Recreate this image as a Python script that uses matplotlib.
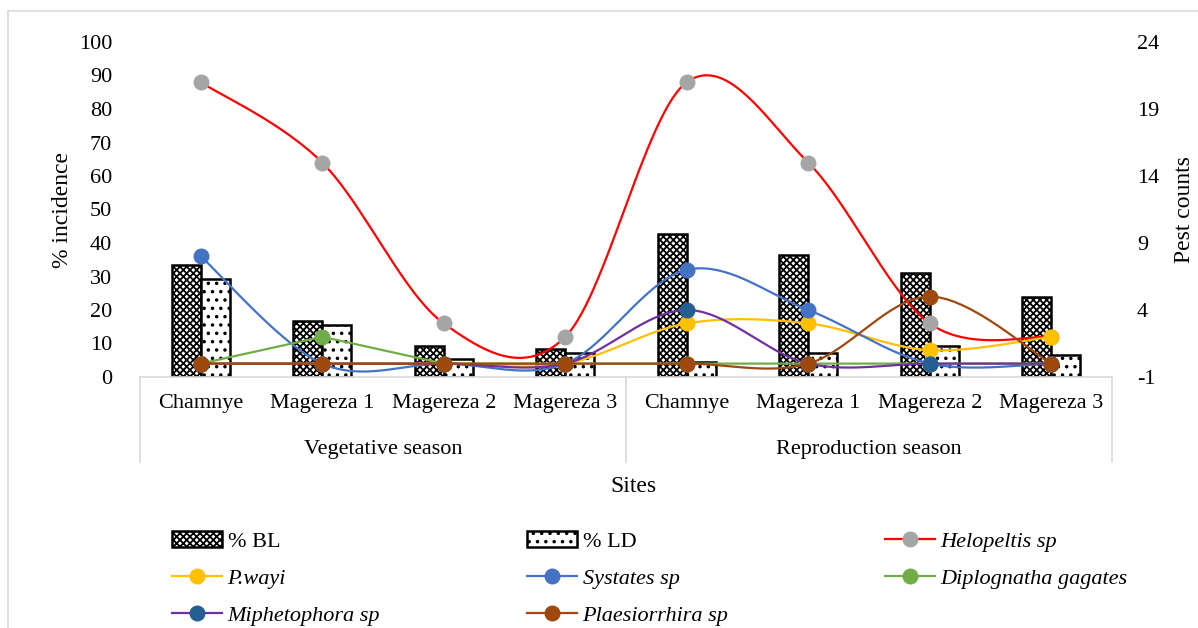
import numpy as np
import matplotlib
matplotlib.use("Agg")
import matplotlib.pyplot as plt
from matplotlib.lines import Line2D
from matplotlib.patches import Rectangle

plt.rcParams['font.family'] = ['Liberation Serif', 'DejaVu Serif']
plt.rcParams['font.size'] = 16
plt.rcParams['hatch.linewidth'] = 1.3
plt.rcParams['axes.unicode_minus'] = False

sites = ["Chamnye", "Magereza 1", "Magereza 2", "Magereza 3",
         "Chamnye", "Magereza 1", "Magereza 2", "Magereza 3"]
seasons = ["Vegetative season", "Reproduction season"]

# % incidence (left axis)
bl = [33.4, 16.8, 9.3, 8.4, 42.6, 36.3, 31.0, 23.8]
ld = [29.3, 15.5, 5.3, 7.1, 4.4, 7.3, 9.3, 6.6]

# pest counts (right axis)
helopeltis = [21, 15, 3, 2, 21, 15, 3, 2]
p_wayi = [0, 0, 0, 0, 3, 3, 1, 2]
systates = [8, 0, 0, 0, 7, 4, 0, 0]
diplognatha = [0, 2, 0, 0, 0, 0, 0, 0]
miphetophora = [0, 0, 0, 0, 4, 0, 0, 0]
plaesiorrhira = [0, 0, 0, 0, 0, 0, 5, 0]


def smooth(x, y, n=40):
    # excel-like smoothed line (catmull-rom as cubic bezier)
    pts = np.column_stack([x, y]).astype(float)
    out = []
    t = np.linspace(0, 1, n + 1)[:, None]
    for i in range(len(pts) - 1):
        p0 = pts[i - 1] if i > 0 else pts[i]
        p1 = pts[i]
        p2 = pts[i + 1]
        p3 = pts[i + 2] if i + 2 < len(pts) else pts[i + 1]
        c1 = p1 + (p2 - p0) / 6
        c2 = p2 - (p3 - p1) / 6
        seg = ((1 - t) ** 3 * p1 + 3 * (1 - t) ** 2 * t * c1
               + 3 * (1 - t) * t ** 2 * c2 + t ** 3 * p2)
        out.append(seg if i == 0 else seg[1:])
    out = np.vstack(out)
    return out[:, 0], out[:, 1], list(range(0, len(out), n))


fig = plt.figure(figsize=(11.98, 6.28), dpi=100)
ax = fig.add_axes([140 / 1198, 1 - 377 / 628, 972 / 1198, 335 / 628])
x = np.arange(len(sites))
w = 0.24

b1 = ax.bar(x - w / 2, bl, width=w, facecolor='white', edgecolor='black',
            hatch='xxxxx', linewidth=1.8, label='% BL')
b2 = ax.bar(x + w / 2, ld, width=w, facecolor='white', edgecolor='black',
            hatch='..', linewidth=1.8, label='% LD')

ax.set_xlim(-0.5, 7.5)
ax.set_ylim(0, 100)
ax.set_yticks(range(0, 101, 10))
ax.set_xticks(x)
ax.set_xticklabels(sites)
ax.tick_params(axis='x', length=0, pad=12)
ax.tick_params(axis='y', length=0, pad=20)
for s in ['top', 'left', 'right']:
    ax.spines[s].set_visible(False)
ax.spines['bottom'].set_color('#D9D9D9')
ax.spines['bottom'].set_linewidth(1.2)

ax2 = ax.twinx()
ax2.set_ylim(-1, 24)
ax2.set_yticks([-1, 4, 9, 14, 19, 24])
ax2.tick_params(axis='y', length=0, pad=18)
for s in ax2.spines.values():
    s.set_visible(False)

series = [
    ("Helopeltis sp", helopeltis, '#FF0000', '#A5A5A5', True),
    ("P.wayi", p_wayi, '#FFC000', '#FFC000', True),
    ("Systates sp", systates, '#4472C4', '#4472C4', True),
    ("Diplognatha gagates", diplognatha, '#70AD47', '#70AD47', False),
    ("Miphetophora sp", miphetophora, '#7030A0', '#255E91', True),
    ("Plaesiorrhira sp", plaesiorrhira, '#9E480E', '#9E480E', True),
]
handles = {}
for name, vals, lc, mc, sm in series:
    if sm:
        xs, ys, idx = smooth(x, vals)
    else:
        xs, ys, idx = x, vals, None
    ln, = ax2.plot(xs, ys, color=lc, lw=1.6, marker='o', markersize=10.5,
                   markerfacecolor=mc, markeredgecolor=mc, markevery=idx,
                   label=name)
    handles[name] = ln

# multi-level category axis
tr = ax.get_xaxis_transform()
for xv in [-0.5, 3.5, 7.5]:
    ax.add_line(Line2D([xv, xv], [0, -0.254], transform=tr, color='#D9D9D9',
                       lw=1.2, clip_on=False))
ax.text(1.5, -0.215, seasons[0], transform=tr, ha='center', va='center')
ax.text(5.5, -0.215, seasons[1], transform=tr, ha='center', va='center')

fig.text(633 / 1198, 1 - 487 / 628, "Sites", ha='center', va='center', fontsize=17)
fig.text(62 / 1198, 1 - 210 / 628, "% incidence", rotation=90, ha='center', va='center', fontsize=17)
fig.text(1185 / 1198, 1 - 210 / 628, "Pest counts", rotation=90, ha='center', va='center', fontsize=17)

# legend in three columns
cols = [
    [b1, handles["P.wayi"], handles["Miphetophora sp"]],
    [b2, handles["Systates sp"], handles["Plaesiorrhira sp"]],
    [handles["Helopeltis sp"], handles["Diplognatha gagates"]],
]
col_x = [172, 527, 885]
for cx, hs in zip(col_x, cols):
    leg = fig.legend(handles=hs, loc='upper left',
                     bbox_to_anchor=(cx / 1198, 1 - 531 / 628),
                     frameon=False, borderpad=0, borderaxespad=0,
                     handlelength=2.25, handletextpad=0.25, labelspacing=0.74,
                     fontsize=16)
    for txt in leg.get_texts():
        if not txt.get_text().startswith('%'):
            txt.set_style('italic')

fig.add_artist(Rectangle((8 / 1198, -0.1), 1.2, 1.1 - 11 / 628,
                         transform=fig.transFigure, fill=False,
                         edgecolor='#D9D9D9', lw=1.2))

fig.savefig("out.png", dpi=100)
